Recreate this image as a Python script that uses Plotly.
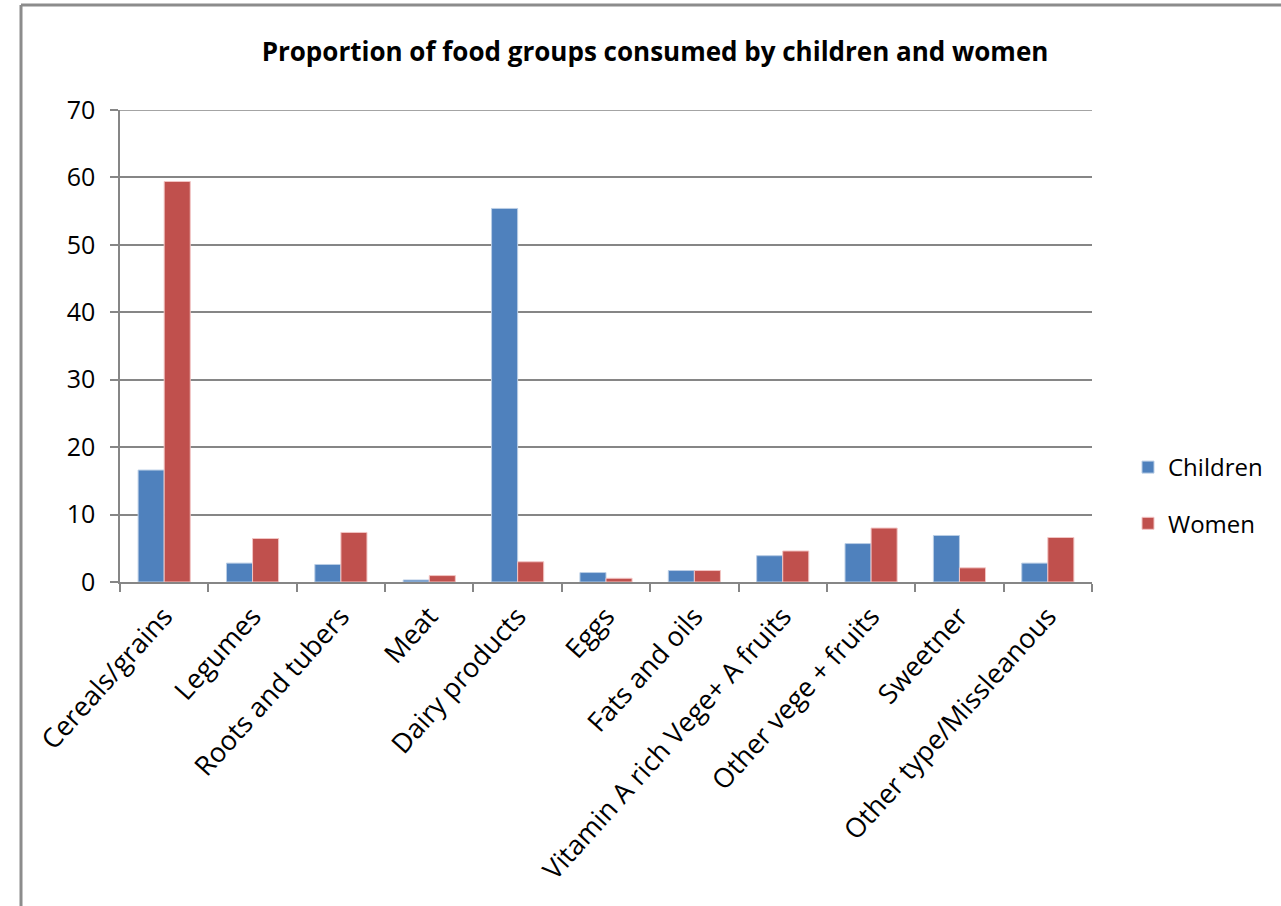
import plotly.graph_objects as go

categories = ["Cereals/grains", "Legumes", "Roots and tubers", "Meat", "Dairy products",
              "Eggs", "Fats and oils", "Vitamin A rich Vege+ A fruits", "Other vege + fruits",
              "Sweetner", "Other type/Missleanous"]
children = [16.6, 2.8, 2.6, 0.3, 55.4, 1.4, 1.7, 3.9, 5.7, 6.9, 2.8]
women = [59.4, 6.45, 7.35, 0.95, 3.0, 0.55, 1.7, 4.6, 8.0, 2.1, 6.6]
y_ticks = [0, 10, 20, 30, 40, 50, 60, 70]

W, H = 1281, 906
L, R, T, B = 120, 1092, 110, 582

FONT = "Open Sans, sans-serif"

fig = go.Figure()
fig.add_trace(go.Bar(name="Children", x=categories, y=children,
                     marker=dict(color="#4F81BD", line=dict(color="#B9CDE5", width=1)),
                     legendgroup="c"))
fig.add_trace(go.Bar(name="Women", x=categories, y=women,
                     marker=dict(color="#C0504D", line=dict(color="#F2C4C3", width=1)),
                     legendgroup="w"))

def px(x):
    return (x - L) / (R - L)

def py(y):
    return (B - y) / (B - T)

fig.update_layout(
    width=W, height=H,
    margin=dict(l=L, r=W - R, t=T, b=H - B, pad=0, autoexpand=False),
    paper_bgcolor="white", plot_bgcolor="white",
    barmode="group", bargap=0.41, bargroupgap=0,
    font=dict(family=FONT, size=24, color="#000000"),
    title=dict(text="<b>Proportion of food groups consumed by children and women</b>",
               x=px(655), xref="paper", xanchor="center",
               y=1 - 52 / H, yref="container", yanchor="middle",
               font=dict(family=FONT, size=26, color="#000000")),
    legend=dict(x=px(1128), xanchor="left", y=py(445), yanchor="top",
                font=dict(family=FONT, size=24, color="#000000"),
                tracegroupgap=22, itemwidth=30, bgcolor="rgba(0,0,0,0)"),
    xaxis=dict(type="category", tickson="boundaries", ticks="outside", ticklen=8,
               tickcolor="#868686", tickwidth=1.5, automargin=False,
               showline=True, linecolor="#868686", linewidth=1.5,
               tickangle=-48, ticklabelstandoff=6,
               tickfont=dict(family=FONT, size=27, color="#000000"),
               showgrid=False),
    yaxis=dict(range=[0, 70], tickvals=y_ticks, ticks="outside", ticklen=8,
               tickcolor="#868686", tickwidth=1.5, automargin=False,
               showline=True, linecolor="#868686", linewidth=1.5,
               showgrid=True, gridcolor="#868686", gridwidth=1.5,
               zeroline=False, ticklabelstandoff=10,
               tickfont=dict(family=FONT, size=25, color="#000000")),
    shapes=[
        dict(type="line", xref="paper", yref="y", x0=0, x1=1, y0=y_ticks[-1], y1=y_ticks[-1],
             line=dict(color="#868686", width=1.5), layer="below"),
        dict(type="line", xref="paper", yref="paper", x0=px(21), x1=px(W), y0=py(5), y1=py(5),
             line=dict(color="#8c8c8c", width=3)),
        dict(type="line", xref="paper", yref="paper", x0=px(21), x1=px(21), y0=py(5), y1=py(H),
             line=dict(color="#8c8c8c", width=3)),
    ],
)

fig.write_html("out.html")
